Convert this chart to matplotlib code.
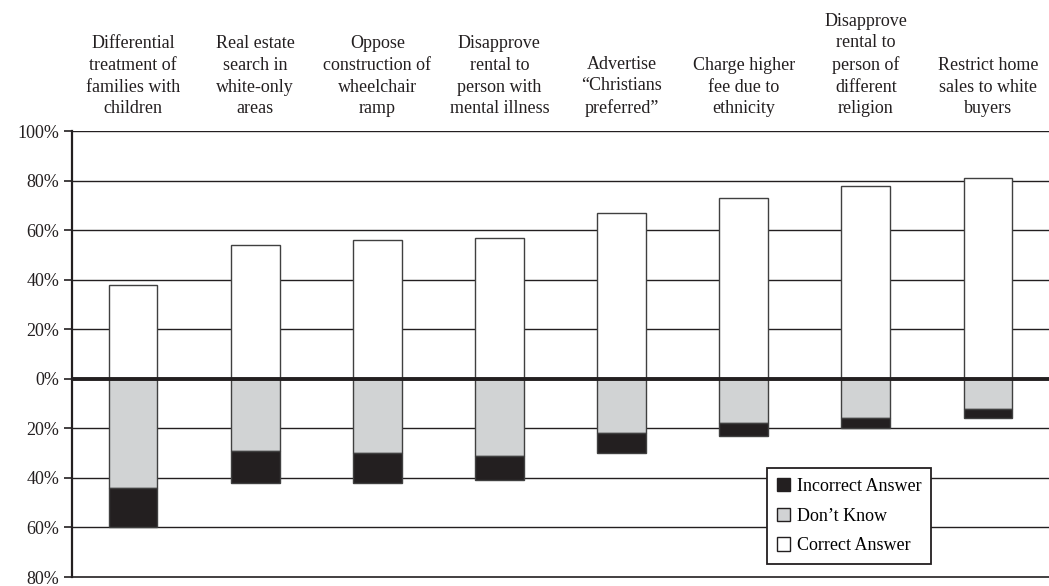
import numpy as np
import matplotlib
matplotlib.use('Agg')
import matplotlib.pyplot as plt
from matplotlib.ticker import FuncFormatter
from matplotlib.patches import Patch

plt.rcParams['font.family'] = ['Liberation Serif', 'DejaVu Serif']

categories = ['Differential\ntreatment of\nfamilies with\nchildren',
              'Real estate\nsearch in\nwhite-only\nareas',
              'Oppose\nconstruction of\nwheelchair\nramp',
              'Disapprove\nrental to\nperson with\nmental illness',
              'Advertise\n\u201cChristians\npreferred\u201d',
              'Charge higher\nfee due to\nethnicity',
              'Disapprove\nrental to\nperson of\ndifferent\nreligion',
              'Restrict home\nsales to white\nbuyers']
correct = [38, 54, 56, 57, 67, 73, 78, 81]
dont_know = [44, 29, 30, 31, 22, 18, 16, 12]
incorrect = [16, 13, 12, 10, 8, 5, 4, 4]

ink = '#231f20'
grey = '#d1d3d4'

fig = plt.figure(figsize=(10.49, 5.86), dpi=100)
ax = fig.add_axes([72/1049, 1-577/586, 1-72/1049, (577-131)/586])

x = np.arange(len(categories))
w = 0.4
dk = -np.array(dont_know)
inc = -np.array(incorrect)

for yv in range(-60, 101, 20):
    if yv != 0:
        ax.axhline(yv, color=ink, lw=1.0, zorder=1)

ax.bar(x, correct, w, color='white', edgecolor='#404040', lw=1.0, zorder=2)
ax.bar(x, dk, w, color=grey, edgecolor='#404040', lw=1.0, zorder=2)
ax.bar(x, inc, w, bottom=dk, color=ink, edgecolor='#404040', lw=1.0, zorder=2)
ax.axhline(0, color=ink, lw=2.8, zorder=3)

ax.set_xlim(-0.5, len(categories) - 0.5)
ax.set_ylim(-80, 100)
ax.set_yticks(range(-80, 101, 20))
ax.yaxis.set_major_formatter(FuncFormatter(lambda v, p: '%d%%' % abs(v)))
ax.tick_params(axis='y', direction='out', length=6, width=1.2, color=ink,
               labelsize=13, labelcolor=ink, pad=3)

ax.xaxis.tick_top()
ax.set_xticks(x)
ax.set_xticklabels(categories, fontsize=13, color=ink, linespacing=1.35)
ax.tick_params(axis='x', length=0, pad=10)

for s in ['top', 'right']:
    ax.spines[s].set_visible(False)
ax.spines['left'].set_linewidth(1.6)
ax.spines['left'].set_color(ink)
ax.spines['bottom'].set_linewidth(1.2)
ax.spines['bottom'].set_color(ink)

handles = [Patch(facecolor=ink, edgecolor=ink, label='Incorrect Answer'),
           Patch(facecolor=grey, edgecolor=ink, label='Don\u2019t Know'),
           Patch(facecolor='white', edgecolor=ink, label='Correct Answer')]
leg = ax.legend(handles=handles, loc='upper left',
                bbox_to_anchor=((767-72)/977, (577-468)/446),
                borderaxespad=0, fontsize=13, frameon=True, fancybox=False,
                handlelength=0.75, handleheight=0.75, handletextpad=0.35,
                borderpad=0.55, labelspacing=0.7, framealpha=1)
leg.get_frame().set_edgecolor(ink)
leg.get_frame().set_linewidth(1.3)
leg.set_zorder(5)

plt.savefig('out.png', dpi=100)
